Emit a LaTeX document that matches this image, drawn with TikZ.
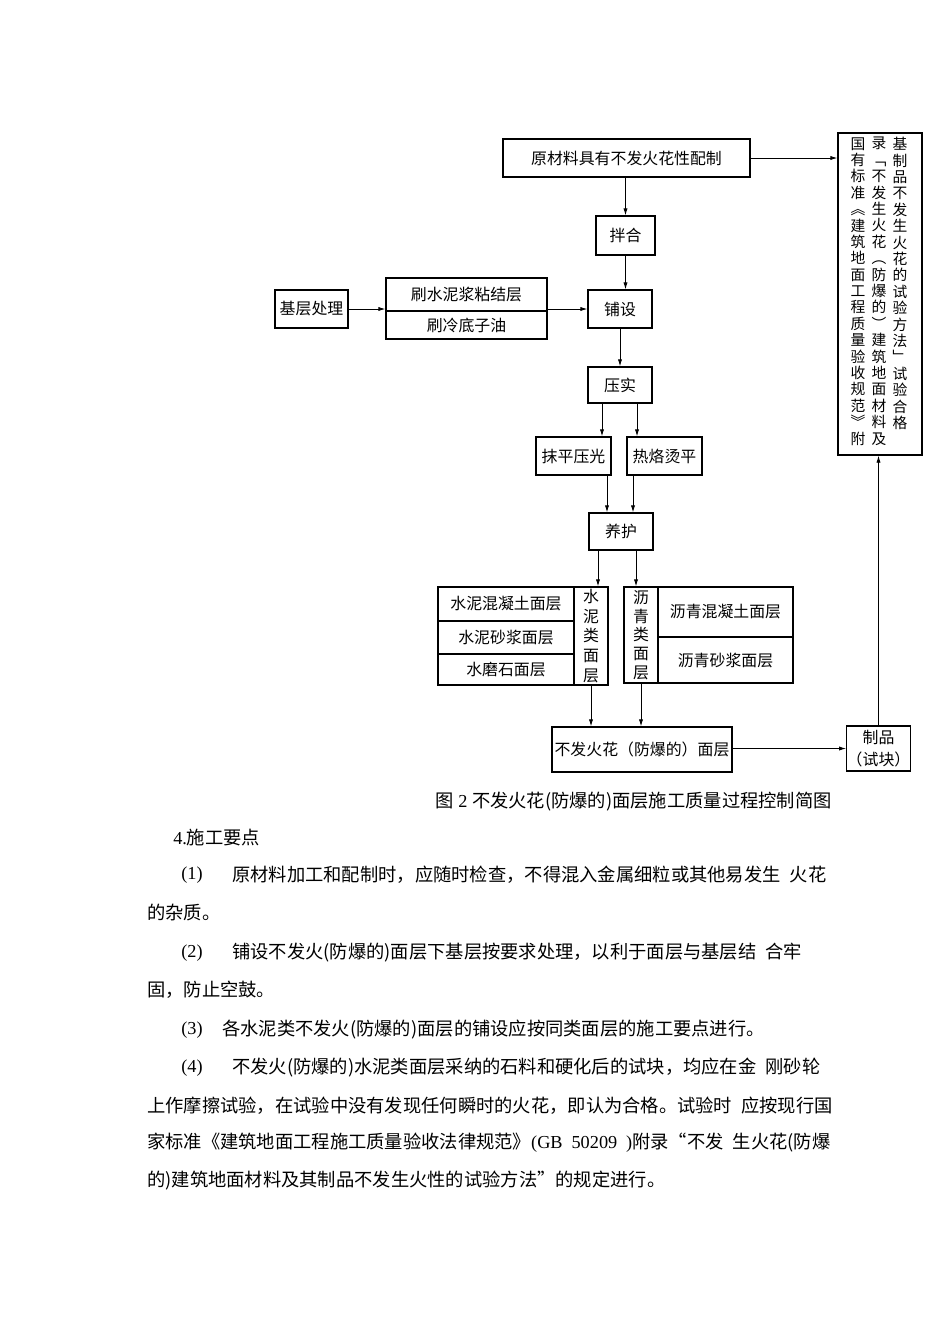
\documentclass[tikz,border=0pt]{standalone}
\usepackage{fontspec}
\setmainfont{Liberation Serif}
\newfontfamily\cjk{Noto Sans CJK SC}
\usetikzlibrary{arrows.meta}
\newcommand\setfs[1]{\fontsize{#1}{#1}\selectfont}
\newcommand\jline[2]{\hbox to #1{\XeTeXlinebreaklocale "zh"\XeTeXlinebreakskip=0pt plus 1fil\relax #2}}

\tikzset{
  box/.style={draw, line width=0.9pt, inner sep=0pt, font=\cjk\setfs{11.3}},
  sz/.style 2 args={minimum width=#1*0.025cm, minimum height=#2*0.025cm},
  arr/.style={line width=0.6pt, -{Latex[length=5pt,width=3pt]}},
  vtxt/.style={align=center, inner sep=0pt, font=\cjk\fontsize{11.3}{#1}\selectfont},
  body/.style={anchor=west, inner sep=0pt, font=\cjk\setfs{13}},
  num/.style={anchor=west, inner sep=0pt, font=\rmfamily\setfs{13}}
}

\begin{document}
\begin{tikzpicture}[x=0.025cm, y=-0.025cm]
    \useasboundingbox (0,0) rectangle (950,1344);

    % main line
    \node[box, sz={247}{38}] (raw) at (626.5,158) {原材料具有不发火花性配制};
    \node[box, sz={59}{39}] (mix) at (625.5,235.5) {拌合};
    \node[box, sz={73}{38}] (base) at (311.5,309) {基层处理};
    \node[box, sz={161}{33}] (brushA) at (466.5,294.5) {刷水泥浆粘结层};
    \node[box, sz={161}{28}] (brushB) at (466.5,325) {刷冷底子油};
    \node[box, sz={64}{38}] (pave) at (620,309) {铺设};
    \node[box, sz={64}{36}] (press) at (620,385) {压实};
    \node[box, sz={75}{38}] (smooth) at (573.5,456) {抹平压光};
    \node[box, sz={75}{38}] (iron) at (664.5,456) {热烙烫平};
    \node[box, sz={64}{37}] (cure) at (621,531.5) {养护};

    % cement and asphalt groups
    \node[box, sz={136}{34}] (c1) at (506,604) {水泥混凝土面层};
    \node[box, sz={136}{33}] (c2) at (506,637.5) {水泥砂浆面层};
    \node[box, sz={136}{31}] (c3) at (506,669.5) {水磨石面层};
    \node[box, sz={34}{98}, vtxt=13.9] (cside) at (591,636) {水\\泥\\类\\面\\层};
    \node[box, sz={34}{96}, vtxt=13.3] (aside) at (641,635) {沥\\青\\类\\面\\层};
    \node[box, sz={135}{50}] (a1) at (725.5,612) {沥青混凝土面层};
    \node[box, sz={135}{46}] (a2) at (725.5,660) {沥青砂浆面层};

    \node[box, sz={180}{45}] (final) at (642,749.5) {不发火花（防爆的）面层};
    \node[box, sz={63}{45}, align=center, font=\cjk\fontsize{11.3}{16}\selectfont] (sample) at (878.5,748.5) {制品\\（试块）};

    % standard box
    \node[box, sz={84}{322}] (std) at (880,294) {};
    \node[vtxt=11.66, font=\cjk\fontsize{10.5}{11.66}\selectfont, anchor=north] (stdC) at (858,137)
        {国\\有\\标\\准\\︽\\建\\筑\\地\\面\\工\\程\\质\\量\\验\\收\\规\\范\\︾\\附};
    \node[vtxt=11.66, font=\cjk\fontsize{10.5}{11.66}\selectfont, anchor=north] (stdB) at (879,137)
        {录\\﹁\\不\\发\\生\\火\\花\\︵\\防\\爆\\的\\︶\\建\\筑\\地\\面\\材\\料\\及};
    \node[vtxt=11.66, font=\cjk\fontsize{10.5}{11.66}\selectfont, anchor=north] (stdA) at (900,137)
        {基\\制\\品\\不\\发\\生\\火\\花\\的\\试\\验\\方\\法\\﹂\\试\\验\\合\\格};

    % arrows
    \draw[arr] (raw.east) -- (raw.east -| std.west);
    \draw[arr] (mix.north |- raw.south) -- (mix.north);
    \draw[arr] (base.east) -- (base.east -| brushA.west);
    \draw[arr] (pave.west -| brushA.east) -- (pave.west);
    \draw[arr] (mix.south) -- (mix.south |- pave.north);
    \draw[arr] (pave.south) -- (press.north);
    \coordinate (pL) at ([xshift=-0.45cm]press.south);
    \coordinate (pR) at ([xshift=0.425cm]press.south);
    \draw[arr] (pL) -- (pL |- smooth.north);
    \draw[arr] (pR) -- (pR |- iron.north);
    \coordinate (cL) at ([xshift=-0.35cm]cure.north);
    \coordinate (cR) at ([xshift=0.3cm]cure.north);
    \draw[arr] (cL |- smooth.south) -- (cL);
    \draw[arr] (cR |- iron.south) -- (cR);
    \coordinate (dL) at ([xshift=-0.575cm]cure.south);
    \coordinate (dR) at ([xshift=0.375cm]cure.south);
    \draw[arr] (dL) -- (dL |- cside.north);
    \draw[arr] (dR) -- (dR |- aside.north);
    \draw[arr] (cside.south) -- (cside.south |- final.north);
    \draw[arr] (aside.south) -- (aside.south |- final.north);
    \draw[arr] (final.east |- sample.west) -- (sample.west);
    \draw[arr] (sample.north) -- (sample.north |- std.south);

    % caption and text
    \node[anchor=east, inner sep=0pt, font=\cjk\setfs{13}] (cap) at (832,802)
        {图{\rmfamily\ 2 }不发火花(防爆的)面层施工质量过程控制简图};
    \node[body] (h4) at (173,838) {{\rmfamily 4.}施工要点};
    \node[num] (n1) at (181,875) {(1)};
    \node[body] (t1) at (232,875) {\jline{14.95cm}{原材料加工和配制时，应随时检查，不得混入金属细粒或其他易发生\hspace{0.5em}火花}};
    \node[body] (t1b) at (147,912) {的杂质。};
    \node[num] (n2) at (181,953) {(2)};
    \node[body] (t2) at (232,953) {\jline{14.95cm}{铺设不发火(防爆的)面层下基层按要求处理，以利于面层与基层结\hspace{0.5em}合牢}};
    \node[body] (t2b) at (147,990) {固，防止空鼓。};
    \node[num] (n3) at (181,1030) {(3)};
    \node[body] (t3) at (222,1030) {各水泥类不发火(防爆的)面层的铺设应按同类面层的施工要点进行。};
    \node[num] (n4) at (181,1068) {(4)};
    \node[body] (t4) at (232,1068) {\jline{14.95cm}{不发火(防爆的)水泥类面层采纳的石料和硬化后的试块，均应在金\hspace{0.5em}刚砂轮}};
    \node[body] (t4b) at (147,1106) {\jline{17.075cm}{上作摩擦试验，在试验中没有发现任何瞬时的火花，即认为合格。试验时\hspace{0.5em}应按现行国}};
    \node[body] (t4c) at (147,1143) {\jline{17.075cm}{家标准《建筑地面工程施工质量验收法律规范》{\rmfamily (GB 50209 )}附录“不发\hspace{0.5em}生火花(防爆}};
    \node[body] (t4d) at (147,1181) {的)建筑地面材料及其制品不发生火性的试验方法”的规定进行。};
\end{tikzpicture}
\end{document}
